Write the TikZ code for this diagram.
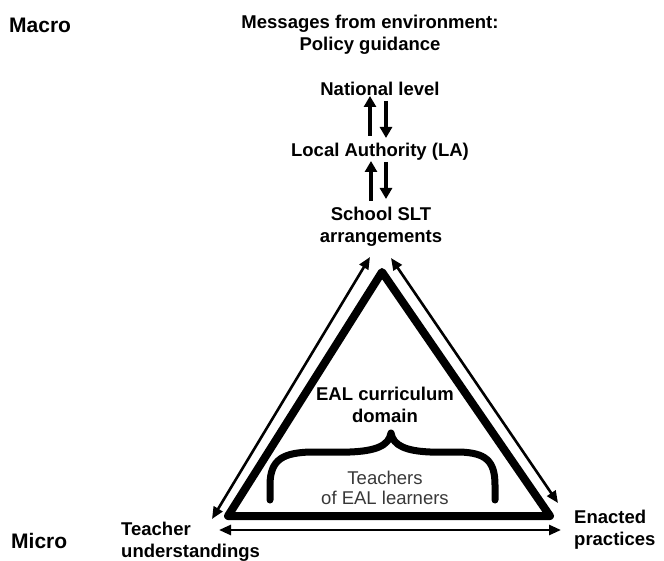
\documentclass[tikz,border=0pt]{standalone}
\usepackage{fontspec}
\setmainfont{Liberation Sans}
\usetikzlibrary{arrows.meta}
\begin{document}
\begin{tikzpicture}[x=1pt,y=-1pt,
  lbl/.style={font=\bfseries\fontsize{18.5}{22}\selectfont, align=center, inner sep=0pt},
  big/.style={font=\bfseries\fontsize{21}{24}\selectfont, inner sep=0pt},
  lbll/.style={font=\bfseries\fontsize{18.5}{22}\selectfont, align=left, inner sep=0pt},
  thin/.style={font=\fontsize{18.5}{20}\selectfont, align=center, inner sep=0pt, text=black!78},
  vert/.style={line width=3.6pt, -{Triangle[length=11pt,width=12pt]}},
  side/.style={line width=2.6pt, {Triangle[length=12pt,width=10pt]}-{Triangle[length=12pt,width=10pt]}},
  tri/.style={line width=8pt, line join=round, line cap=round},
  brace/.style={line width=7pt, line cap=round, line join=round}]
\useasboundingbox (0,0) rectangle (664,561);
% texts
\node[big, anchor=west] (macro) at (9,25) {Macro};
\node[big, anchor=west] (micro) at (11,541) {Micro};
\node[lbl] (msg) at (370,35) {Messages from environment:\\Policy guidance};
\node[lbl] (nat) at (380,89) {National level};
\node[lbl] (la) at (380,152) {Local Authority (LA)};
\node[lbl] (slt) at (381,227) {School SLT\\arrangements};
\node[lbll, anchor=west] (tu) at (121,542) {Teacher\\understandings};
\node[lbll, anchor=west] (ep) at (574,530) {Enacted\\practices};
\node[lbl] (eal) at (385,405) {EAL curriculum\\domain};
\node[thin] (tch) at (385,488) {Teachers\\of EAL learners};
% vertical arrows
\coordinate (u1s) at (370,136); \coordinate (u1e) at (370,96);
\coordinate (d1s) at (386,101); \coordinate (d1e) at (386,138);
\coordinate (u2s) at (371,201); \coordinate (u2e) at (371,161);
\coordinate (d2s) at (386,162); \coordinate (d2e) at (386,199);
\draw[vert] (u1s) -- (u1e);
\draw[vert] (d1s) -- (d1e);
\draw[vert] (u2s) -- (u2e);
\draw[vert] (d2s) -- (d2e);
% triangle
\coordinate (A) at (382,272);
\coordinate (B) at (228,516);
\coordinate (C) at (550,516);
\draw[tri] (A) -- (B) -- (C) -- cycle;
% outer arrows
\coordinate (l1) at (370,257); \coordinate (l2) at (212,519);
\coordinate (r1) at (391,258); \coordinate (r2) at (558,503);
\coordinate (b1) at (219,530); \coordinate (b2) at (561,530);
\draw[side] (l1) -- (l2);
\draw[side] (r1) -- (r2);
\draw[side] (b1) -- (b2);
% brace
\coordinate (bl) at (270,500);
\coordinate (br) at (495,500);
\coordinate (bt) at (391,433);
\draw[brace] (bl) -- (270,485) .. controls (270,458) and (285,453) .. (310,452)
  -- (350,452) .. controls (375,451) and (389,446) .. (bt)
  .. controls (393,446) and (407,451) .. (430,452)
  -- (460,452) .. controls (485,453) and (495,460) .. (495,485) -- (br);
\end{tikzpicture}
\end{document}
